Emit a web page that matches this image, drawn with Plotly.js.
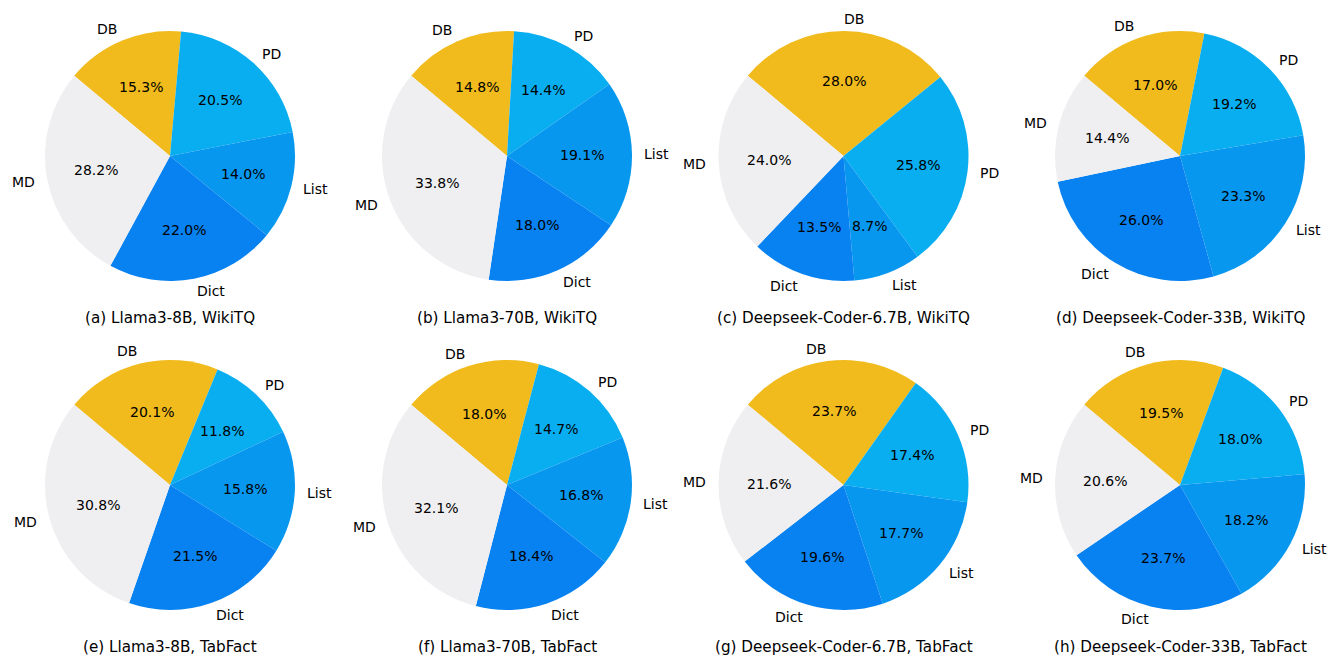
<!DOCTYPE html>
<html>
<head>
<meta charset="utf-8">
<script src="https://cdn.plot.ly/plotly-3.0.1.min.js"></script>
<style>html,body{margin:0;padding:0;background:#fff;}#chart{width:1330px;height:656px;}</style>
</head>
<body>
<div id="chart"></div>
<script>
// ---- data ----
const categories = ['DB', 'PD', 'List', 'Dict', 'MD'];
const llama8bWikiTQ   = [15.3, 20.5, 14.0, 22.0, 28.2];
const llama70bWikiTQ  = [14.8, 14.4, 19.1, 18.0, 33.8];
const ds67bWikiTQ     = [28.0, 25.8, 8.7, 13.5, 24.0];
const ds33bWikiTQ     = [17.0, 19.2, 23.3, 26.0, 14.4];
const llama8bTabFact  = [20.1, 11.8, 15.8, 21.5, 30.8];
const llama70bTabFact = [18.0, 14.7, 16.8, 18.4, 32.1];
const ds67bTabFact    = [23.7, 17.4, 17.7, 19.6, 21.6];
const ds33bTabFact    = [19.5, 18.0, 18.2, 23.7, 20.6];
const subtitles = [
  '(a) Llama3-8B, WikiTQ', '(b) Llama3-70B, WikiTQ', '(c) Deepseek-Coder-6.7B, WikiTQ', '(d) Deepseek-Coder-33B, WikiTQ',
  '(e) Llama3-8B, TabFact', '(f) Llama3-70B, TabFact', '(g) Deepseek-Coder-6.7B, TabFact', '(h) Deepseek-Coder-33B, TabFact'
];
const seriesList = [llama8bWikiTQ, llama70bWikiTQ, ds67bWikiTQ, ds33bWikiTQ,
                    llama8bTabFact, llama70bTabFact, ds67bTabFact, ds33bTabFact];

// ---- style / layout ----
const sliceColors = ['#F1BB1D', '#08AEF0', '#0897EF', '#0882F1', '#EFEFF1'];
const W = 1330, H = 656;
const R = 125;
const colCenters = [170, 507, 843.5, 1180];
const rowCenters = [156, 485];
const subtitleY = [318, 647];
const startAngle = -50; // degrees clockwise from 12 o'clock
const FONT = 'DejaVu Sans, sans-serif';

const data = [];
const annotations = [];
seriesList.forEach((vals, k) => {
  const col = k % 4, row = Math.floor(k / 4);
  const cx = colCenters[col], cy = rowCenters[row];
  data.push({
    type: 'pie',
    labels: categories,
    values: vals,
    sort: false,
    direction: 'clockwise',
    rotation: startAngle,
    textinfo: 'none',
    hoverinfo: 'label+percent',
    marker: {colors: sliceColors, line: {width: 0}},
    showlegend: false,
    domain: {x: [(cx - R) / W, (cx + R) / W], y: [1 - (cy + R) / H, 1 - (cy - R) / H]}
  });
  const total = vals.reduce((a, b) => a + b, 0);
  let acc = 0;
  vals.forEach((v, i) => {
    const mid = (startAngle + (acc + v / 2) / total * 360) * Math.PI / 180;
    acc += v;
    const s = Math.sin(mid), c = Math.cos(mid);
    // category label outside
    annotations.push({
      xref: 'paper', yref: 'paper',
      x: (cx + 1.1 * R * s) / W, y: 1 - (cy - 1.1 * R * c) / H,
      text: categories[i], showarrow: false,
      xanchor: s > 0 ? 'left' : 'right', yanchor: 'middle',
      borderpad: 0, borderwidth: 0,
      font: {family: FONT, size: 14, color: '#000'}
    });
    // percentage inside
    annotations.push({
      xref: 'paper', yref: 'paper',
      x: (cx + 0.6 * R * s) / W, y: 1 - (cy - 0.6 * R * c) / H,
      text: (v / total * 100).toFixed(1) + '%', showarrow: false,
      xanchor: 'center', yanchor: 'middle',
      borderpad: 0, borderwidth: 0,
      font: {family: FONT, size: 14, color: '#000'}
    });
  });
  annotations.push({
    xref: 'paper', yref: 'paper',
    x: cx / W, y: 1 - subtitleY[row] / H,
    text: subtitles[k], showarrow: false,
    xanchor: 'center', yanchor: 'middle',
    borderpad: 0, borderwidth: 0,
    font: {family: FONT, size: 15.2, color: '#000'}
  });
});

const layout = {
  width: W, height: H,
  margin: {l: 0, r: 0, t: 0, b: 0},
  paper_bgcolor: '#fff',
  font: {family: FONT, size: 14, color: '#000'},
  annotations: annotations
};
Plotly.newPlot('chart', data, layout, {displayModeBar: false, staticPlot: true});
</script>
</body>
</html>
